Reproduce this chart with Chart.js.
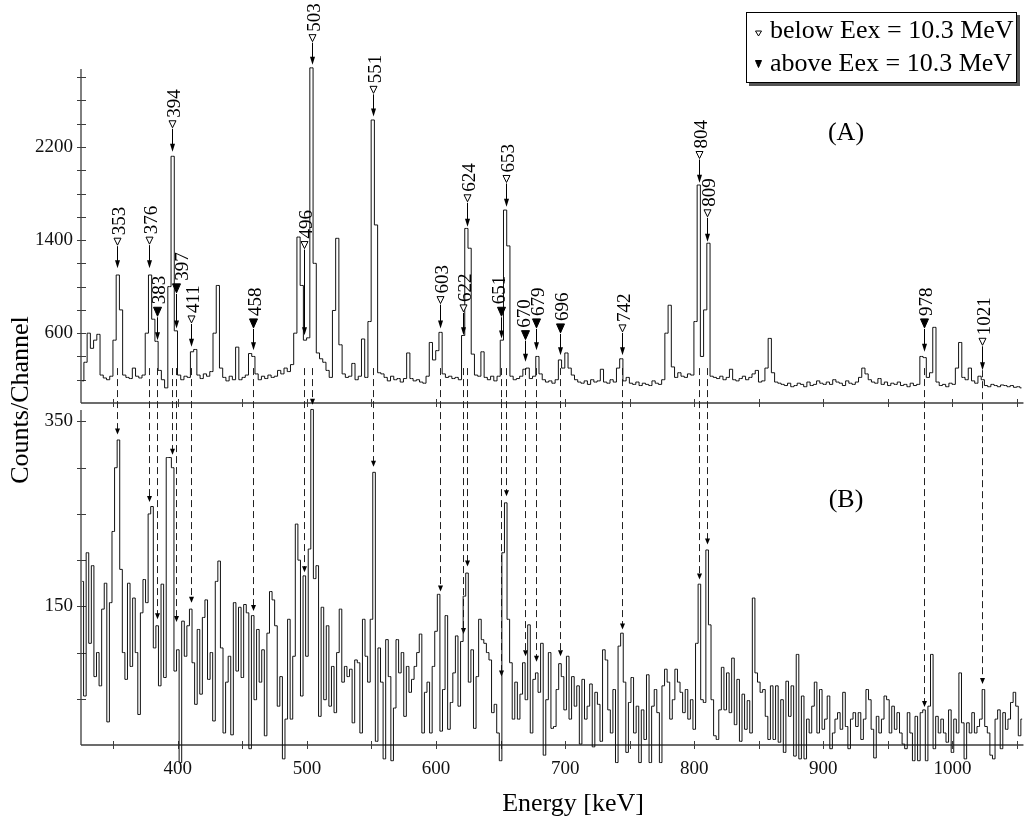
<!DOCTYPE html>
<html><head><meta charset="utf-8">
<script src="https://cdn.jsdelivr.net/npm/chart.js@4/dist/chart.umd.min.js"></script>
<style>html,body{margin:0;padding:0;background:#fff;}#wrap{position:relative;width:1030px;height:823px;}</style>
</head><body><div id="wrap"><canvas id="c" width="1030" height="823"></canvas></div>
<script>
// ---- spectrum (A): counts per channel, channels of binWidthA keV from energyStartA ----
const energyStartA = 326;
const binWidthA = 2.5;
const countsA = [
190,350,600,470,540,590,240,215,200,230,540,1100,800,240,220,210,300,230,215,240,
600,1100,720,530,280,200,130,1000,2120,620,240,200,230,220,440,460,240,210,250,230,
270,600,1010,300,220,190,230,200,480,200,220,240,425,400,250,200,230,210,240,220,
230,280,250,300,270,330,600,1426,1010,540,560,2880,1200,430,380,350,280,220,795,1415,
500,250,220,230,340,200,230,550,220,700,2432,1530,260,250,220,190,230,200,210,180,
210,430,210,190,200,180,170,230,520,370,450,607,250,220,230,210,220,200,580,1500,
1330,420,240,230,440,220,200,230,190,230,540,1658,1350,230,200,210,230,290,300,210,
230,400,250,200,180,190,170,200,370,300,430,300,240,200,180,170,190,160,200,180,
190,290,180,170,200,180,300,380,190,220,170,160,180,150,170,160,150,190,170,160,
200,600,840,310,220,260,230,220,250,240,700,1873,400,800,1373,230,220,210,230,200,
220,290,200,190,210,230,200,220,250,280,180,190,300,555,260,180,170,160,150,170,
140,150,170,160,140,180,150,160,190,170,160,180,160,200,180,170,150,190,170,160,
180,220,300,250,200,180,170,210,160,180,150,170,160,180,150,160,140,170,150,160,
400,390,220,260,650,180,150,160,140,170,160,300,520,220,200,300,190,170,230,200,
150,140,160,150,140,155,150,140,150,135,140,130];

// ---- spectrum (B): counts per channel, channels of binWidthB keV from energyStartB ----
const energyStartB = 326;
const binWidthB = 2;
const countsB = [
177,53,208,110,194,74,100,64,147,175,25,154,231,300,330,190,100,71,175,85,
159,100,33,143,179,154,250,258,105,129,64,174,73,311,311,300,80,103,-19,134,
96,129,147,89,44,125,55,138,157,71,100,26,177,199,105,13,68,96,11,154,
80,149,73,152,143,-4,140,49,125,68,103,10,121,166,157,129,42,74,-15,28,
136,28,96,239,200,53,183,96,212,363,180,194,31,149,49,129,42,85,35,100,
147,68,85,74,82,24,92,89,13,136,96,68,136,295,4,105,68,-15,114,74,
-17,40,114,78,100,31,85,57,71,85,100,120,13,57,68,13,85,123,163,15,
60,140,17,46,78,118,42,112,161,186,68,103,18,74,136,114,110,100,92,35,
44,13,-17,208,262,136,89,28,68,28,55,89,49,130,13,71,78,57,110,-11,
49,100,18,20,60,88,74,38,96,28,74,42,64,1,71,28,42,66,-2,57,
44,4,103,92,38,13,60,-19,107,121,68,-8,46,73,13,42,-19,38,6,76,
-19,42,60,35,-19,64,82,68,28,49,82,68,57,35,60,28,49,17,110,174,
49,46,211,130,49,10,6,38,84,38,78,35,94,22,71,4,55,17,48,13,
159,78,68,57,60,31,6,64,6,64,3,49,-8,69,31,64,-12,98,-15,53,
-15,28,13,42,68,13,60,17,28,53,-4,13,28,35,17,57,20,-4,28,35,
20,35,6,28,60,49,17,-14,31,13,28,53,49,13,42,17,35,13,1,-4,
35,13,-17,31,-17,35,38,-17,42,98,-4,31,13,28,13,3,38,-8,28,13,
78,24,-15,24,13,35,13,20,28,60,20,13,-11,-15,28,38,-4,35,17,28,
46,57,42,10,28];

// ---- peak annotations ----
const peakLabels  = [353,376,383,394,397,411,458,496,503,551,603,622,624,651,653,670,679,696,742,804,809,978,1021];
const arrowEnergy = [353.2,377.5,383.5,395.8,398.8,410.4,458.5,497.5,503.7,551.4,602.7,620.6,623.9,650.6,653.9,668.8,677.8,695.8,743.7,803.9,809.8,977.8,1023.2];
const peakAbove   = [0,0,1,0,1,0,1,0,0,0,0,0,0,1,0,1,1,1,0,0,0,1,0];
const arrowTipA   = [1157,1157,540,2160,641,483,454,583,2906,2461,641,583,1515,555,1687,354,454,411,411,1893,1386,440,282];
const markerA     = [1386,1395,784,2395,985,718,684,1357,3135,2691,884,813,1759,784,1925,583,684,641,641,2131,1630,684,526];
const arrowTipB   = [336,263,136,314,133,154,145,187,368,301,166,120,193,74,269,96,90,96,125,179,217,41,66];
const dashStartA = 300;

// ---- axes ----
const xMin = 325, xMax = 1055;
const yAMax = 2870, yBMax = 370;
const labelTicksX = [400,500,600,700,800,900,1000];
const labelTicksA = [600,1400,2200];
const labelTicksB = [150,350];
const legendTexts = ['below Eex = 10.3 MeV','above Eex = 10.3 MeV'];

const SERIF = "'Liberation Serif','Times New Roman',serif";
const labelNudge = {397: 4, 651: -4, 670: -3};

function tri(ctx, cx, cy, w, h, filled) {
  ctx.beginPath();
  ctx.moveTo(cx - w/2, cy - h/2);
  ctx.lineTo(cx + w/2, cy - h/2);
  ctx.lineTo(cx, cy + h/2);
  ctx.closePath();
  ctx.fillStyle = filled ? '#000' : '#fff';
  ctx.fill();
  ctx.strokeStyle = '#000';
  ctx.lineWidth = 1;
  ctx.stroke();
}
function head(ctx, x, tipY, w, h) {
  ctx.beginPath();
  ctx.moveTo(x - w/2, tipY - h);
  ctx.lineTo(x + w/2, tipY - h);
  ctx.lineTo(x, tipY);
  ctx.closePath();
  ctx.fillStyle = '#000';
  ctx.fill();
}

const annot = {
  id: 'annot',
  beforeDatasetsDraw(chart) {
    const {ctx, chartArea: ca} = chart;
    const {x, yA, yB} = chart.scales;
    ctx.save();
    ctx.strokeStyle = '#3c3c3c';
    ctx.lineWidth = 1.3;
    const sep = yA.getPixelForValue(0);
    const bot = yB.getPixelForValue(0);
    ctx.beginPath();
    ctx.moveTo(ca.left, yA.getPixelForValue(yAMax)); ctx.lineTo(ca.left, sep);
    ctx.moveTo(ca.left, sep); ctx.lineTo(ca.right, sep);
    ctx.moveTo(ca.left, yB.top + 7); ctx.lineTo(ca.left, bot);
    ctx.moveTo(ca.left, bot); ctx.lineTo(ca.right, bot);
    ctx.stroke();
    ctx.lineWidth = 1;
    ctx.beginPath();
    yA.ticks.forEach(t => { if (t.value <= 0) return; const p = Math.round(yA.getPixelForValue(t.value)) + 0.5; ctx.moveTo(ca.left - 4, p); ctx.lineTo(ca.left + 5, p); });
    yB.ticks.forEach(t => { if (t.value <= 0) return; const p = Math.round(yB.getPixelForValue(t.value)) + 0.5; ctx.moveTo(ca.left - 4, p); ctx.lineTo(ca.left + 5, p); });
    x.ticks.forEach(t => { const p = Math.round(x.getPixelForValue(t.value)) + 0.5;
      ctx.moveTo(p, sep - 4); ctx.lineTo(p, sep + 4);
      ctx.moveTo(p, bot - 4); ctx.lineTo(p, bot + 4); });
    ctx.stroke();
    // dashed connectors from panel A down to panel B
    ctx.strokeStyle = '#222';
    ctx.setLineDash([7, 4]);
    arrowEnergy.forEach((e, i) => {
      const px = Math.round(x.getPixelForValue(e)) + 0.5;
      const y0 = Math.max(yA.getPixelForValue(arrowTipA[i]), yA.getPixelForValue(dashStartA));
      const y1 = yB.getPixelForValue(arrowTipB[i]) - 4;
      ctx.beginPath(); ctx.moveTo(px, y0); ctx.lineTo(px, y1); ctx.stroke();
    });
    ctx.setLineDash([]);
    arrowEnergy.forEach((e, i) => {
      const px = Math.round(x.getPixelForValue(e)) + 0.5;
      head(ctx, px, yB.getPixelForValue(arrowTipB[i]), 5, 6);
    });
    ctx.restore();
  },
  afterDatasetsDraw(chart) {
    const {ctx} = chart;
    const {x, yA} = chart.scales;
    ctx.save();
    arrowEnergy.forEach((e, i) => {
      const px = Math.round(x.getPixelForValue(e)) + 0.5;
      const tip = yA.getPixelForValue(arrowTipA[i]);
      const my = yA.getPixelForValue(markerA[i]);
      const filled = !!peakAbove[i];
      const tw = filled ? 8 : 7, th = filled ? 9 : 7;
      ctx.strokeStyle = '#000'; ctx.lineWidth = 1;
      ctx.beginPath(); ctx.moveTo(px, my + th/2 + 1); ctx.lineTo(px, tip - 5); ctx.stroke();
      head(ctx, px, tip, 5, 8);
      tri(ctx, px, my, tw, th, filled);
      ctx.save();
      ctx.translate(px + 1 + (labelNudge[peakLabels[i]] || 0), my - th/2 - 3);
      ctx.rotate(-Math.PI/2);
      ctx.font = '19px ' + SERIF;
      ctx.fillStyle = '#000';
      ctx.textAlign = 'left';
      ctx.textBaseline = 'alphabetic';
      ctx.fillText(String(peakLabels[i]), 0, 6.5);
      ctx.restore();
    });
    ctx.restore();
  },
  afterDraw(chart) {
    const {ctx} = chart;
    ctx.save();
    ctx.fillStyle = '#000';
    ctx.font = '26px ' + SERIF;
    ctx.textAlign = 'center';
    ctx.textBaseline = 'alphabetic';
    ctx.fillText('(A)', 846, 140);
    ctx.fillText('(B)', 846, 507);
    ctx.fillText('Energy [keV]', 573, 811);
    ctx.save();
    ctx.translate(28, 400); ctx.rotate(-Math.PI/2);
    ctx.fillText('Counts/Channel', 0, 0);
    ctx.restore();
    // legend box with drop shadow
    ctx.fillStyle = '#555';
    ctx.fillRect(749, 15, 271, 71);
    ctx.fillStyle = '#fff';
    ctx.fillRect(746, 12, 271, 71);
    ctx.strokeStyle = '#000'; ctx.lineWidth = 1;
    ctx.strokeRect(746.5, 12.5, 270, 70);
    tri(ctx, 758.5, 33.5, 6, 5, false);
    tri(ctx, 758.5, 64, 6, 7, true);
    ctx.fillStyle = '#000';
    ctx.textAlign = 'left';
    ctx.fillText(legendTexts[0], 770, 38);
    ctx.fillText(legendTexts[1], 770, 71);
    ctx.restore();
  }
};

const dataA = countsA.map((v, i) => ({x: energyStartA + i * binWidthA, y: v}));
const dataB = countsB.map((v, i) => ({x: energyStartB + i * binWidthB, y: v}));

const tickFont = {family: SERIF, size: 19};
new Chart(document.getElementById('c'), {
  type: 'line',
  data: {datasets: [
    {label: 'A', data: dataA, yAxisID: 'yA', stepped: 'middle', borderColor: '#111', borderWidth: 1, pointRadius: 0, clip: false},
    {label: 'B', data: dataB, yAxisID: 'yB', stepped: 'middle', borderColor: '#111', borderWidth: 1, pointRadius: 0, clip: false}
  ]},
  options: {
    responsive: false, animation: false, devicePixelRatio: 1,
    layout: {padding: {top: 69, left: 0, right: 0, bottom: 0}},
    plugins: {legend: {display: false}, tooltip: {enabled: false}},
    events: [],
    scales: {
      x: {type: 'linear', position: 'bottom', min: xMin, max: xMax,
          grid: {display: false, drawTicks: false}, border: {display: false},
          ticks: {stepSize: 50, includeBounds: false, autoSkip: false, maxRotation: 0, padding: 13,
                  font: tickFont, color: '#111',
                  callback: v => labelTicksX.includes(v) ? String(v) : ''},
          afterFit: s => { s.height = 78; }},
      yB: {type: 'linear', position: 'left', stack: 'panels', stackWeight: 342, min: 0, max: yBMax,
          grid: {display: false, drawTicks: false}, border: {display: false},
          ticks: {stepSize: 50, includeBounds: false, autoSkip: false, padding: 8, font: tickFont, color: '#111',
                  callback: v => labelTicksB.includes(v) ? String(v) : ''},
          afterFit: s => { s.width = 81; }},
      yA: {type: 'linear', position: 'left', stack: 'panels', stackWeight: 334, min: 0, max: yAMax,
          grid: {display: false, drawTicks: false}, border: {display: false},
          ticks: {stepSize: 200, includeBounds: false, autoSkip: false, padding: 8, font: tickFont, color: '#111',
                  callback: v => labelTicksA.includes(v) ? String(v) : ''},
          afterFit: s => { s.width = 81; }}
    }
  },
  plugins: [annot]
});
</script></body></html>
